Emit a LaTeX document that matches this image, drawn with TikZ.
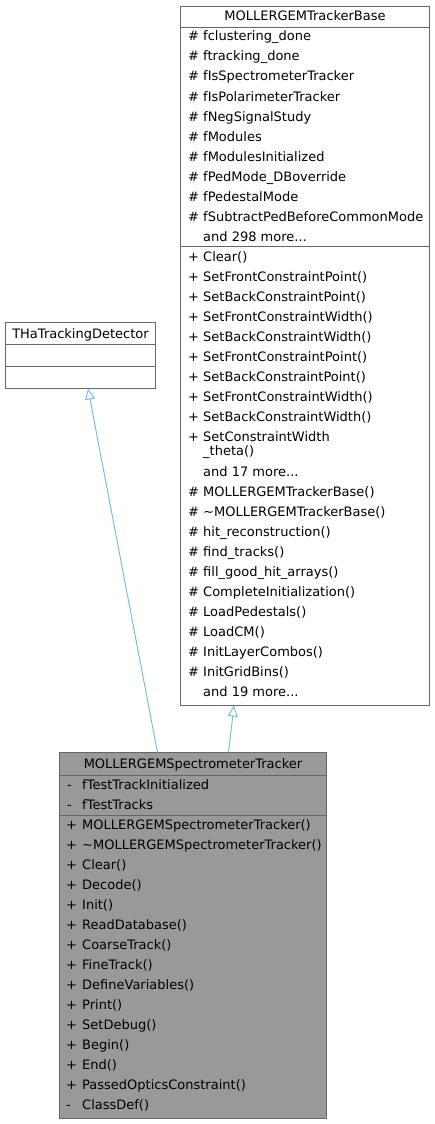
\documentclass[tikz,border=0pt]{standalone}
\usepackage{fontspec}
\setmainfont{DejaVu Sans}
\usetikzlibrary{arrows.meta}
\usetikzlibrary{positioning}
\definecolor{edgeblue}{HTML}{63B8FF}
\definecolor{boxline}{HTML}{666666}
\definecolor{boxfill}{HTML}{999999}

\begin{document}
\begin{tikzpicture}[x=1pt,y=-1pt,
    classbox/.style={draw=boxline, line width=0.9pt, anchor=north west, inner sep=0pt, outer sep=0pt},
    divider/.style={draw=boxline, line width=0.9pt},
    member/.style={anchor=base west, inner sep=0pt, font=\fontsize{13}{15}\selectfont},
    classname/.style={anchor=base, inner sep=0pt, font=\fontsize{13}{15}\selectfont},
    inherit/.style={draw=edgeblue, line width=0.9pt, -{Triangle[open, fill=white, length=11pt, width=10pt]}}]
    \useasboundingbox (0,0) rectangle (435,1124);
    \def\rh{20}
    \def\dy{4.5}
    % base class
    \node[classbox, fill=white, minimum width=249pt, minimum height=699pt] (base) at (180.5,6.5) {};
    \node[classname] (baseT) at (305,16.5+\dy) {MOLLERGEMTrackerBase};
    \draw[divider] (180.5,27.5) -- (429.5,27.5);
    \draw[divider] (180.5,246.5) -- (429.5,246.5);
    \foreach \t [count=\i, evaluate=\i as \yy using 36.5+\dy+(\i-1)*\rh] in {fclustering\_done, ftracking\_done,
        fIsSpectrometerTracker, fIsPolarimeterTracker, fNegSignalStudy, fModules, fModulesInitialized,
        fPedMode\_DBoverride, fPedestalMode, fSubtractPedBeforeCommonMode}{
        \node[member] (bAs\i) at (188,\yy) {\#};
        \node[member] (bA\i) at (203,\yy) {\t};
    }
    \node[member] (bAmore) at (203,236.5+\dy) {and 298 more...};
    \foreach \t [count=\i, evaluate=\i as \yy using 257+\dy+(\i-1)*\rh] in {Clear(), SetFrontConstraintPoint(),
        SetBackConstraintPoint(), SetFrontConstraintWidth(), SetBackConstraintWidth(), SetFrontConstraintPoint(),
        SetBackConstraintPoint(), SetFrontConstraintWidth(), SetBackConstraintWidth(), SetConstraintWidth}{
        \node[member] (bMs\i) at (188,\yy) {+};
        \node[member] (bM\i) at (203,\yy) {\t};
    }
    \node[member] (bMtheta) at (203,451+\dy) {\_theta()};
    \node[member] (bMmore) at (203,472+\dy) {and 17 more...};
    \foreach \t [count=\i, evaluate=\i as \yy using 492+\dy+(\i-1)*\rh] in {MOLLERGEMTrackerBase(),
        \textasciitilde MOLLERGEMTrackerBase(), hit\_reconstruction(), find\_tracks(), fill\_good\_hit\_arrays(),
        CompleteInitialization(), LoadPedestals(), LoadCM(), InitLayerCombos(), InitGridBins()}{
        \node[member] (bPs\i) at (188,\yy) {\#};
        \node[member] (bP\i) at (203,\yy) {\t};
    }
    \node[member] (bPmore) at (203,692+\dy) {and 19 more...};
    % THaTrackingDetector
    \node[classbox, fill=white, minimum width=150pt, minimum height=66pt] (tha) at (5.5,322.5) {};
    \node[classname] (thaT) at (80.5,333.5+\dy) {THaTrackingDetector};
    \draw[divider] (5.5,344.5) -- (155.5,344.5);
    \draw[divider] (5.5,366.5) -- (155.5,366.5);
    % derived class
    \node[classbox, fill=boxfill, minimum width=267pt, minimum height=366pt] (spec) at (59.5,752.5) {};
    \node[classname] (specT) at (193,764+\dy) {MOLLERGEMSpectrometerTracker};
    \draw[divider] (59.5,775.5) -- (326.5,775.5);
    \draw[divider] (59.5,815.5) -- (326.5,815.5);
    \foreach \t [count=\i, evaluate=\i as \yy using 785+\dy+(\i-1)*\rh] in {fTestTrackInitialized, fTestTracks}{
        \node[member] (sAs\i) at (67,\yy) {-};
        \node[member] (sA\i) at (82,\yy) {\t};
    }
    \foreach \s/\t [count=\i, evaluate=\i as \yy using 825+\dy+(\i-1)*\rh] in {+/MOLLERGEMSpectrometerTracker(),
        +/\textasciitilde MOLLERGEMSpectrometerTracker(), +/Clear(), +/Decode(), +/Init(), +/ReadDatabase(),
        +/CoarseTrack(), +/FineTrack(), +/DefineVariables(), +/Print(), +/SetDebug(), +/Begin(), +/End(),
        +/PassedOpticsConstraint(), -/ClassDef()}{
        \node[member] (sMs\i) at (66,\yy) {\s};
        \node[member] (sM\i) at (82,\yy) {\t};
    }
    % inheritance
    \draw[inherit] ([xshift=-35.5pt]spec.north) -- ([xshift=7.5pt]tha.south);
    \draw[inherit] ([xshift=35.5pt]spec.north) -- ([xshift=-71pt]base.south);
\end{tikzpicture}
\end{document}
